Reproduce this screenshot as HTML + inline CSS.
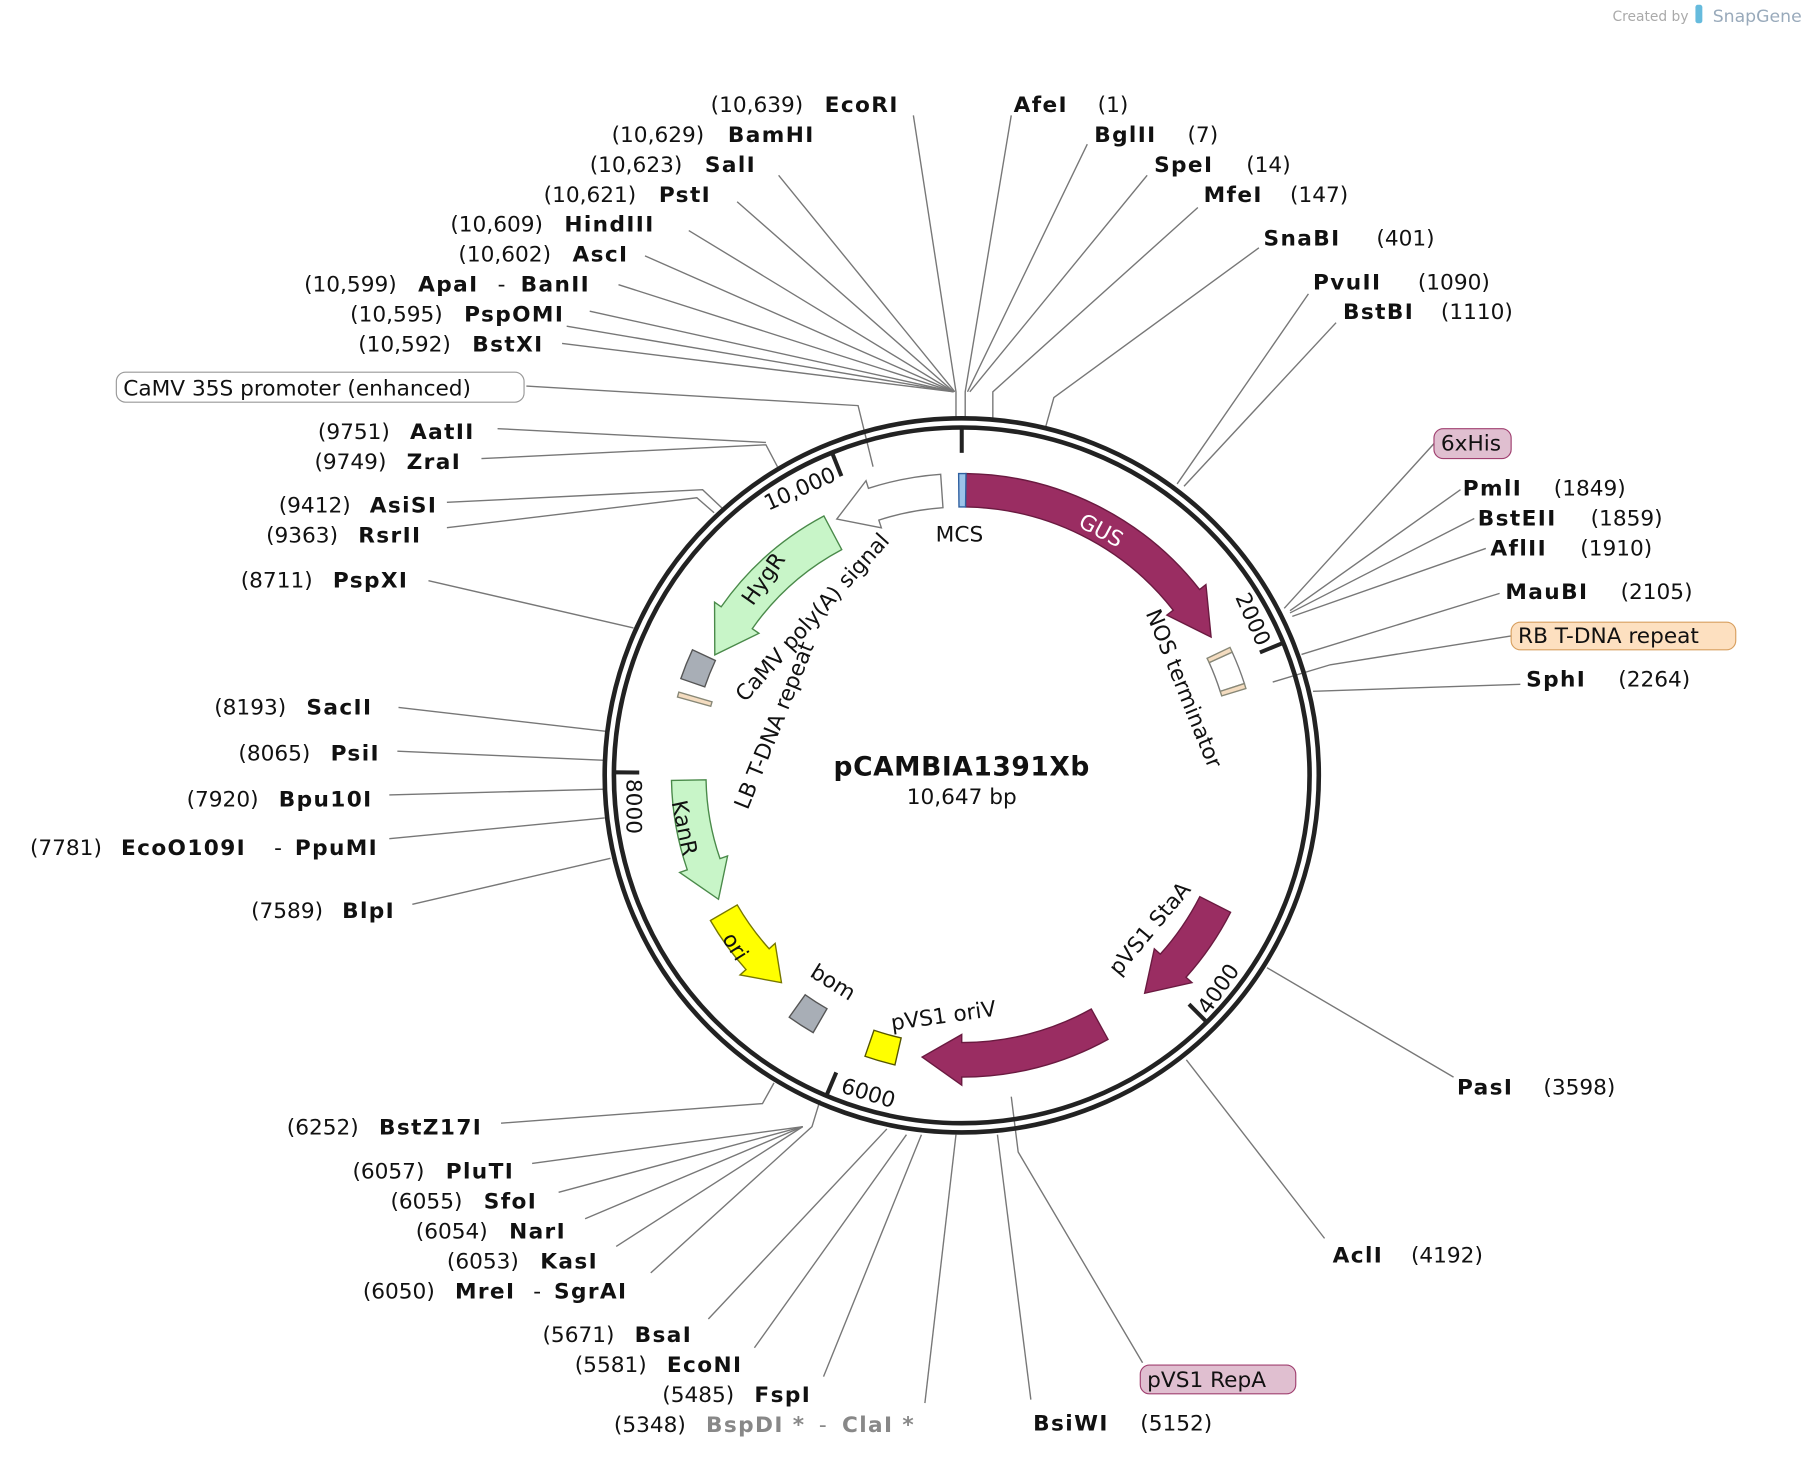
<!DOCTYPE html>
<html><head><meta charset="utf-8"><style>
html,body{margin:0;padding:0;background:#fff;}
svg{display:block;}
text{font-family:"DejaVu Sans","Liberation Sans",sans-serif;font-size:18.8px;fill:#111;}
.b{font-weight:bold;letter-spacing:1.2px;}
.g{fill:#888;}
.ln{stroke:#777;stroke-width:1.2;fill:none;}
</style></head><body>
<svg id="s" width="1806" height="1462" viewBox="0 0 1568 1269" xmlns="http://www.w3.org/2000/svg">
<text x="1400" y="18" style="font-size:12px;fill:#aaa">Created by</text>
<text x="1487" y="19" style="font-size:15px;fill:#9ab">SnapGene</text>
<rect x="1472" y="4" width="6" height="16" rx="2" fill="#6bd"/>
<g id="lines" class="ln">
<polyline points="793,100 830,340 830,363"/>
<polyline points="676,152 829,340"/>
<polyline points="640,175 828,340"/>
<polyline points="598,200 828,340"/>
<polyline points="560,222 828,340"/>
<polyline points="537,247 828,340"/>
<polyline points="512,270 828,340"/>
<polyline points="492,283 828,340"/>
<polyline points="488,298 828,340"/>
<polyline points="878,100 838,340 838,363"/>
<polyline points="944,125 840,340"/>
<polyline points="996,152 842,340"/>
<polyline points="1040,180 862,340 862,363"/>
<polyline points="1093,215 915,345 908,370"/>
<polyline points="1136,255 1022,420"/>
<polyline points="1160,280 1028,422"/>
<polyline points="1245,385 1115,528"/>
<polyline points="1268,425 1120,530"/>
<polyline points="1280,450 1120,532"/>
<polyline points="1290,476 1122,535"/>
<polyline points="1302,515 1130,568"/>
<polyline points="1312,552 1155,577 1105,592"/>
<polyline points="1320,594 1140,600"/>
<polyline points="1262,935 1100,840"/>
<polyline points="1150,1075 1030,920"/>
<polyline points="992,1183 884,1000 878,952"/>
<polyline points="895,1215 866,985"/>
<polyline points="615,1145 770,980"/>
<polyline points="655,1170 787,985"/>
<polyline points="715,1195 800,985"/>
<polyline points="803,1218 830,985"/>
<polyline points="435,975 662,958 672,940"/>
<polyline points="462,1010 697,978"/>
<polyline points="485,1035 697,978"/>
<polyline points="508,1058 697,978"/>
<polyline points="535,1082 697,978"/>
<polyline points="565,1105 705,978 712,955"/>
<polyline points="358,785 530,745"/>
<polyline points="338,728 525,710"/>
<polyline points="338,690 525,685"/>
<polyline points="345,652 525,660"/>
<polyline points="346,614 528,635"/>
<polyline points="372,504 550,545"/>
<polyline points="388,458 605,432 620,445"/>
<polyline points="388,436 610,425 628,442"/>
<polyline points="418,398 665,386 675,405"/>
<polyline points="432,372 665,384"/>
<polyline points="457,335 745,352 758,405"/>
</g>
<circle cx="835" cy="673" r="310" fill="none" stroke="#222" stroke-width="4"/>
<circle cx="835" cy="673" r="302" fill="none" stroke="#222" stroke-width="4"/>
<g id="shapes"></g>
<text x="617" y="97">(10,639)</text><text class="b" x="716" y="97">EcoRI</text>
<text x="531" y="123">(10,629)</text><text class="b" x="632" y="123">BamHI</text>
<text x="512" y="149">(10,623)</text><text class="b" x="612" y="149">SalI</text>
<text x="472" y="175">(10,621)</text><text class="b" x="572" y="175">PstI</text>
<text x="391" y="201">(10,609)</text><text class="b" x="490" y="201">HindIII</text>
<text x="398" y="227">(10,602)</text><text class="b" x="497" y="227">AscI</text>
<text x="264" y="253">(10,599)</text><text class="b" x="363" y="253">ApaI</text><text x="432" y="253">-</text><text class="b" x="452" y="253">BanII</text>
<text x="304" y="279">(10,595)</text><text class="b" x="403" y="279">PspOMI</text>
<text x="311" y="305">(10,592)</text><text class="b" x="410" y="305">BstXI</text>
<rect x="101" y="323" width="354" height="26" rx="8" fill="#fff" stroke="#999"/>
<text x="107" y="343">CaMV 35S promoter (enhanced)</text>
<text x="276" y="381">(9751)</text><text class="b" x="356" y="381">AatII</text>
<text x="273" y="407">(9749)</text><text class="b" x="353" y="407">ZraI</text>
<text x="242" y="445">(9412)</text><text class="b" x="321" y="445">AsiSI</text>
<text x="231" y="471">(9363)</text><text class="b" x="311" y="471">RsrII</text>
<text x="209" y="510">(8711)</text><text class="b" x="289" y="510">PspXI</text>
<text x="186" y="620">(8193)</text><text class="b" x="266" y="620">SacII</text>
<text x="207" y="660">(8065)</text><text class="b" x="287" y="660">PsiI</text>
<text x="162" y="700">(7920)</text><text class="b" x="242" y="700">Bpu10I</text>
<text x="26" y="742">(7781)</text><text class="b" x="105" y="742">EcoO109I</text><text x="238" y="742">-</text><text class="b" x="256" y="742">PpuMI</text>
<text x="218" y="797">(7589)</text><text class="b" x="297" y="797">BlpI</text>
<text x="249" y="985">(6252)</text><text class="b" x="329" y="985">BstZ17I</text>
<text x="306" y="1023">(6057)</text><text class="b" x="387" y="1023">PluTI</text>
<text x="339" y="1049">(6055)</text><text class="b" x="420" y="1049">SfoI</text>
<text x="361" y="1075">(6054)</text><text class="b" x="442" y="1075">NarI</text>
<text x="388" y="1101">(6053)</text><text class="b" x="469" y="1101">KasI</text>
<text x="315" y="1127">(6050)</text><text class="b" x="395" y="1127">MreI</text><text x="463" y="1127">-</text><text class="b" x="481" y="1127">SgrAI</text>
<text x="471" y="1165">(5671)</text><text class="b" x="551" y="1165">BsaI</text>
<text x="499" y="1191">(5581)</text><text class="b" x="579" y="1191">EcoNI</text>
<text x="575" y="1217">(5485)</text><text class="b" x="655" y="1217">FspI</text>
<text x="533" y="1243">(5348)</text><text class="b g" x="613" y="1243">BspDI *</text><text class="g" x="711" y="1243">-</text><text class="b g" x="731" y="1243">ClaI *</text>
<text class="b" x="897" y="1242">BsiWI</text><text x="990" y="1242">(5152)</text>
<rect x="990" y="1185" width="135" height="25" rx="8" fill="#e0bfd0" stroke="#a04070"/>
<text x="996" y="1204">pVS1 RepA</text>
<text class="b" x="1157" y="1096">AclI</text><text x="1225" y="1096">(4192)</text>
<text class="b" x="1265" y="950">PasI</text><text x="1340" y="950">(3598)</text>
<text class="b" x="1325" y="596">SphI</text><text x="1405" y="596">(2264)</text>
<rect x="1312" y="540" width="195" height="24" rx="8" fill="#fde0c0" stroke="#d8a060"/>
<text x="1318" y="558">RB T-DNA repeat</text>
<text class="b" x="1307" y="520">MauBI</text><text x="1407" y="520">(2105)</text>
<text class="b" x="1294" y="482">AflII</text><text x="1372" y="482">(1910)</text>
<text class="b" x="1283" y="456">BstEII</text><text x="1381" y="456">(1859)</text>
<text class="b" x="1270" y="430">PmlI</text><text x="1349" y="430">(1849)</text>
<rect x="1245" y="372" width="67" height="26" rx="8" fill="#e0bfd0" stroke="#a04070"/>
<text x="1251" y="391">6xHis</text>
<text class="b" x="1166" y="277">BstBI</text><text x="1251" y="277">(1110)</text>
<text class="b" x="1140" y="251">PvuII</text><text x="1231" y="251">(1090)</text>
<text class="b" x="1097" y="213">SnaBI</text><text x="1195" y="213">(401)</text>
<text class="b" x="1045" y="175">MfeI</text><text x="1120" y="175">(147)</text>
<text class="b" x="1002" y="149">SpeI</text><text x="1082" y="149">(14)</text>
<text class="b" x="950" y="123">BglII</text><text x="1031" y="123">(7)</text>
<text class="b" x="880" y="97">AfeI</text><text x="953" y="97">(1)</text>
<text class="b" x="835" y="673" text-anchor="middle" style="font-size:23px;letter-spacing:0.5px">pCAMBIA1391Xb</text>
<text x="835" y="698" text-anchor="middle">10,647 bp</text>
<text x="833" y="470" text-anchor="middle">MCS</text>
<text transform="translate(953,466) rotate(28)" text-anchor="middle" style="fill:#fff">GUS</text>
<text transform="translate(710,540) rotate(-48)" text-anchor="middle">CaMV poly(A) signal</text>
<text transform="translate(668,506) rotate(-55)" text-anchor="middle">HygR</text>
<text transform="translate(678,632) rotate(-68)" text-anchor="middle">LB T-DNA repeat</text>
<text transform="translate(1022,600) rotate(68)" text-anchor="middle">NOS terminator</text>
<text transform="translate(1082,540) rotate(66)" text-anchor="middle">2000</text>
<text transform="translate(697,430) rotate(-24)" text-anchor="middle">10,000</text>
<text transform="translate(544,700) rotate(90)" text-anchor="middle">8000</text>
<text transform="translate(588,720) rotate(78)" text-anchor="middle">KanR</text>
<text transform="translate(633,825) rotate(58)" text-anchor="middle">ori</text>
<text transform="translate(720,858) rotate(32)" text-anchor="middle">bom</text>
<text transform="translate(820,888) rotate(-8)" text-anchor="middle">pVS1 oriV</text>
<text transform="translate(1003,810) rotate(-50)" text-anchor="middle">pVS1 StaA</text>
<text transform="translate(1063,862) rotate(-55)" text-anchor="middle">4000</text>
<text transform="translate(752,955) rotate(17)" text-anchor="middle">6000</text>
</svg>
<script>
var cx=835,cy=673,NS="http://www.w3.org/2000/svg";
function P(a,r){var t=a*Math.PI/180;return [cx+r*Math.sin(t),cy-r*Math.cos(t)];}
function f(p){return p[0].toFixed(1)+","+p[1].toFixed(1);}
var g=document.getElementById("shapes");
function add(tag,attrs){var e=document.createElementNS(NS,tag);for(var k in attrs)e.setAttribute(k,attrs[k]);g.appendChild(e);return e;}
function arc(a1,a2,r){var sw=a2>a1?1:0;var lg=Math.abs(a2-a1)>180?1:0;return "A"+r+","+r+" 0 "+lg+" "+sw+" "+f(P(a2,r));}
function arrow(tail,tip,ri,ro,h,fill,stroke){
 var d=tip>tail?1:-1,hb=tip-d*h,e=7,rm=(ri+ro)/2;
 var s="M"+f(P(tail,ro))+arc(tail,hb,ro)+"L"+f(P(hb,ro+e))+"L"+f(P(tip,rm))+"L"+f(P(hb,ri-e))+"L"+f(P(hb,ri))+arc(hb,tail,ri)+"Z";
 add("path",{d:s,fill:fill,stroke:stroke,"stroke-width":1.2});
}
function box(a1,a2,ri,ro,fill,stroke){
 var s="M"+f(P(a1,ro))+arc(a1,a2,ro)+"L"+f(P(a2,ri))+arc(a2,a1,ri)+"Z";
 add("path",{d:s,fill:fill,stroke:stroke,"stroke-width":1.2});
}
arrow(0.8,61,233,262,9,"#9a2d62","#6a1a40");
box(-0.6,0.8,233,262,"#9cc4ea","#3060a0");
arrow(-4,-26,233,262,8,"#fff","#777");
arrow(-28,-64,222,255,9,"#c8f5c8","#4a8a4a");
box(-71,-65,236,258,"#a8aeb6","#555");
box(-74.6,-73.6,226,256,"#f4dcc0","#887");
arrow(-91,-117,222,252,8,"#c8f5c8","#4a8a4a");
arrow(-120,-139,225,252,7,"#ffff00","#777700");
box(-150,-144.5,234,258,"#a8aeb6","#555");
box(-167,-161,234,258,"#ffff00","#555500");
arrow(117,140,232,262,8,"#9a2d62","#6a1a40");
arrow(151,188,232,262,8,"#9a2d62","#6a1a40");
box(65.5,72,236,258,"#fff","#777");
box(64.5,65.5,236,258,"#f4dcc0","#887");
box(72,73,236,258,"#f4dcc0","#887");
[0,67.6,135.2,202.9,270.5,338.1].forEach(function(a){
 add("line",{x1:P(a,303)[0],y1:P(a,303)[1],x2:P(a,280)[0],y2:P(a,280)[1],stroke:"#222","stroke-width":3.5});
});
</script>
</body></html>
